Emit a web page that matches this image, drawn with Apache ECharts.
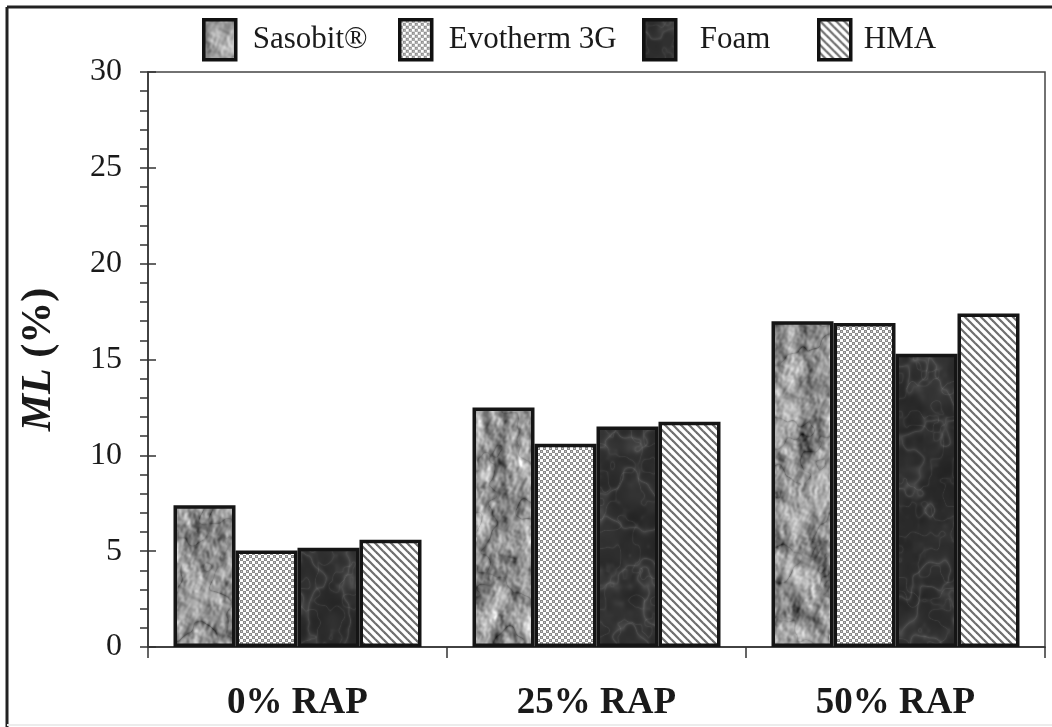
<!DOCTYPE html>
<html>
<head>
<meta charset="utf-8">
<script src="https://cdn.jsdelivr.net/npm/echarts@6/dist/echarts.min.js"></script>
<style>
html,body{margin:0;padding:0;background:#fff;}
#chart{width:1052px;height:727px;}
</style>
</head>
<body>
<div id="chart"></div>
<script>
// ---- data ----
const categories = ['0% RAP', '25% RAP', '50% RAP'];
const seriesNames = ['Sasobit®', 'Evotherm 3G', 'Foam', 'HMA'];
const sasobit = [7.4, 12.5, 17.0];
const evotherm = [5.03, 10.6, 16.9];
const foam = [5.18, 11.5, 15.3];
const hma = [5.6, 11.75, 17.4];
const yMin = 0, yMax = 30, yInterval = 5;

// ---- textures (decorative, deterministic) ----
function hash(x, y) { const h = Math.sin(x * 127.1 + y * 311.7) * 43758.5453; return h - Math.floor(h); }
function vnoise(x, y) {
  const xi = Math.floor(x), yi = Math.floor(y), xf = x - xi, yf = y - yi;
  const u = xf * xf * (3 - 2 * xf), v = yf * yf * (3 - 2 * yf);
  const a = hash(xi, yi), b = hash(xi + 1, yi), c = hash(xi, yi + 1), d = hash(xi + 1, yi + 1);
  return a + (b - a) * u + (c - a) * v + (a - b - c + d) * u * v;
}
function fbm(x, y, oct) { let s = 0, amp = 0.5, f = 1, t = 0; for (let i = 0; i < oct; i++) { s += amp * vnoise(x * f, y * f); t += amp; f *= 2; amp *= 0.5; } return s / t; }
function makeTex(w, h, fn) {
  const c = document.createElement('canvas'); c.width = w; c.height = h;
  const ctx = c.getContext('2d'); const img = ctx.createImageData(w, h);
  for (let y = 0; y < h; y++) for (let x = 0; x < w; x++) {
    let g = Math.max(0, Math.min(255, fn(x, y))); const i = (y * w + x) * 4;
    img.data[i] = img.data[i + 1] = img.data[i + 2] = g; img.data[i + 3] = 255;
  }
  ctx.putImageData(img, 0, 0); return c;
}
const TW = 1052, TH = 727;
const sasoTex = makeTex(TW, TH, (x, y) => {
  const u = (x + y * 0.5) / 26, v = (y - x * 0.5) / 32;
  const n = fbm(u + 3.1, v + 1.7, 4);
  const sh = (fbm(u + 0.07, v, 4) - fbm(u, v + 0.07, 4)) * 640;
  const r = 1 - Math.abs(2 * fbm(u * 0.9 + 9, v * 0.9 + 5, 3) - 1);
  return 158 + 46 * (n - 0.5) + sh - 55 * Math.pow(r, 9);
});
const foamTex = makeTex(TW, TH, (x, y) => {
  const n = fbm(x / 25 + 7.7, y / 25 + 2.2, 3);
  const r = 1 - Math.abs(2 * fbm(x / 30 + 11, y / 34 + 4, 3) - 1);
  const r2 = 1 - Math.abs(2 * fbm(x / 12 + 2, y / 15 + 9, 2) - 1);
  return 44 + 24 * (n - 0.5) + 30 * Math.pow(r, 12) + 16 * Math.pow(r2, 14);
});
function makeCross() {
  const c = document.createElement('canvas'); c.width = 6; c.height = 6; const ctx = c.getContext('2d');
  ctx.fillStyle = '#fff'; ctx.fillRect(0, 0, 6, 6);
  ctx.fillStyle = '#8a8a8a';
  ctx.fillRect(0, 0, 3, 3); ctx.fillRect(3, 3, 3, 3);
  ctx.fillStyle = '#c8c8c8'; ctx.fillRect(1, 1, 1, 1); ctx.fillRect(4, 4, 1, 1);
  return c;
}
function makeStripe() {
  const s = 8; const c = document.createElement('canvas'); c.width = s; c.height = s; const ctx = c.getContext('2d');
  ctx.fillStyle = '#fff'; ctx.fillRect(0, 0, s, s);
  ctx.strokeStyle = '#6e6e6e'; ctx.lineWidth = 2.2;
  for (let k = -1; k <= 1; k++) { ctx.beginPath(); ctx.moveTo(k * s - 1, -1); ctx.lineTo(k * s + s + 1, s + 1); ctx.stroke(); }
  return c;
}
const fills = [
  { image: sasoTex, repeat: 'repeat' },
  { image: makeCross(), repeat: 'repeat' },
  { image: foamTex, repeat: 'repeat' },
  { image: makeStripe(), repeat: 'repeat' }
];
const values = [sasobit, evotherm, foam, hma];

const serif = 'Liberation Serif';
const legendLefts = [202, 398, 642, 817];
const legendPads = [12, 12, 19, 8];

const chart = echarts.init(document.getElementById('chart'), null, { renderer: 'canvas' });
chart.setOption({
  backgroundColor: '#fff',
  animation: false,
  legend: seriesNames.map((n, i) => ({
    data: [n], left: legendLefts[i], top: 18, icon: 'rect', itemWidth: 32, itemHeight: 40,
    padding: 0,
    itemStyle: { borderWidth: 3.5, borderColor: '#111' },
    textStyle: { fontFamily: serif, fontSize: 31, color: '#1a1a1a', padding: [3, 0, 0, legendPads[i]] }
  })),
  grid: { left: 148, right: 7, top: 72, bottom: 80, show: true, borderColor: '#444', borderWidth: 1.5, backgroundColor: 'transparent' },
  xAxis: {
    type: 'category', data: categories,
    axisLine: { lineStyle: { color: '#333', width: 1.5 } },
    axisTick: { show: true, length: 11, lineStyle: { color: '#333', width: 1.5 } },
    axisLabel: { fontFamily: serif, fontSize: 37, fontWeight: 'bold', color: '#1a1a1a', margin: 38 },
    splitLine: { show: false }
  },
  yAxis: [{
    type: 'value', min: yMin, max: yMax, interval: yInterval,
    name: '{i|ML}{s| }{b|(%)}', nameLocation: 'middle', nameGap: 88,
    nameTextStyle: { rich: {
      i: { fontFamily: serif, fontSize: 42, fontWeight: 'bold', fontStyle: 'italic', color: '#1a1a1a' },
      s: { fontFamily: serif, fontSize: 42, fontWeight: 'bold', color: '#1a1a1a' },
      b: { fontFamily: serif, fontSize: 42, fontWeight: 'bold', color: '#1a1a1a' } } },
    axisLine: { show: true, lineStyle: { color: '#333', width: 1.5 } },
    axisTick: { show: true, length: 8, lineStyle: { color: '#333', width: 1.5 } },
    minorTick: { show: true, splitNumber: 5, length: 8, lineStyle: { color: '#333', width: 1.5 } },
    axisLabel: { fontFamily: serif, fontSize: 32, color: '#1a1a1a', margin: 26 },
    splitLine: { show: false }, minorSplitLine: { show: false }
  }, {
    type: 'value', min: yMin, max: yMax, interval: yInterval, position: 'left',
    axisLine: { show: false },
    axisTick: { show: true, inside: true, length: 8, lineStyle: { color: '#333', width: 1.5 } },
    axisLabel: { show: false }, splitLine: { show: false }
  }],
  series: seriesNames.map((n, i) => ({
    name: n, type: 'bar', data: values[i], yAxisIndex: 0,
    barWidth: 62, barGap: '0%',
    itemStyle: { color: fills[i], borderColor: '#151515', borderWidth: 3.5 },
    emphasis: { disabled: true }
  })),
  graphic: [
    { type: 'line', shape: { x1: 7, y1: 7, x2: 1052, y2: 7 }, style: { stroke: '#222', lineWidth: 3 }, silent: true },
    { type: 'line', shape: { x1: 7, y1: 7, x2: 7, y2: 727 }, style: { stroke: '#222', lineWidth: 3 }, silent: true },
    { type: 'line', shape: { x1: 7, y1: 725, x2: 1052, y2: 725 }, style: { stroke: '#ececec', lineWidth: 2 }, silent: true }
  ]
});
</script>
</body>
</html>
